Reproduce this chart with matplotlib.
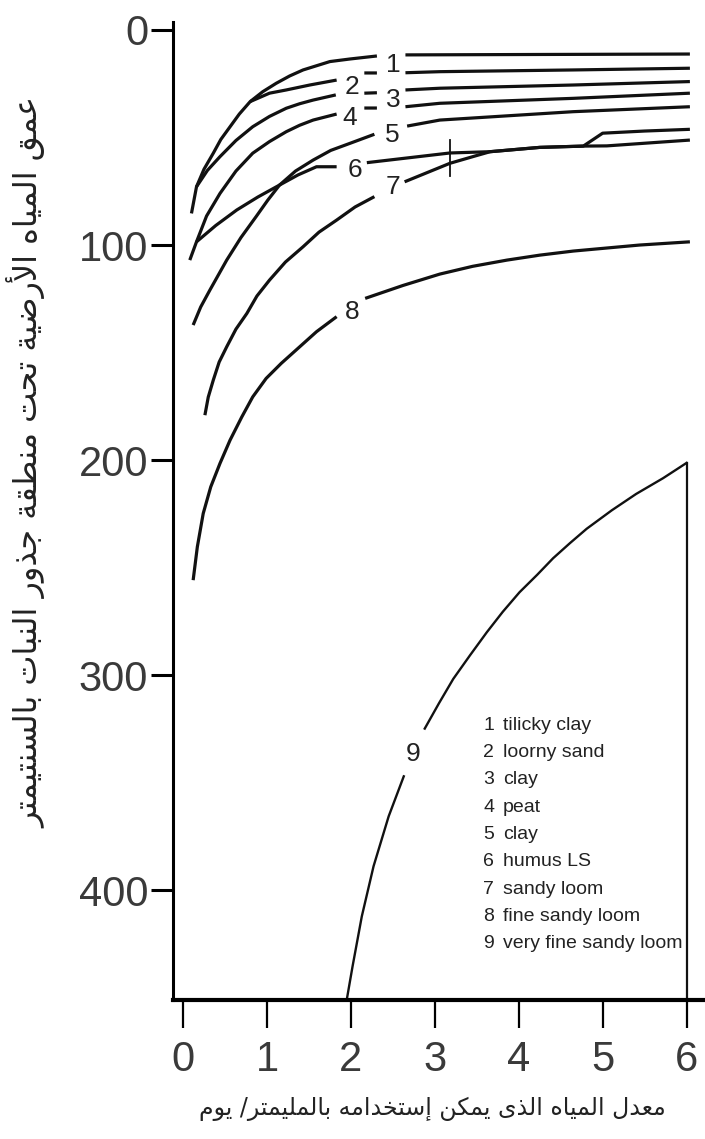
import numpy as np
import matplotlib
matplotlib.use('Agg')
import matplotlib.pyplot as plt

nan = np.nan

# rate of usable water (mm/day) vs depth of groundwater below root zone (cm)
c1_x = [0.10, 0.16, 0.25, 0.36, 0.45, 0.56, 0.67, 0.80, 0.95, 1.11, 1.27, 1.43, 1.75, 1.99, 2.31,
        nan, 2.65, 4.30, 6.04]
c1_d = [85.3, 72.9, 64.7, 57.3, 50.9, 45.0, 39.1, 33.3, 28.7, 24.8, 21.4, 18.6, 14.7, 13.5, 12.1,
        nan, 11.6, 11.4, 11.2]

c2_x = [0.80, 1.03, 1.23, 1.51, 1.83, nan, 2.16, 2.31, nan, 2.65, 3.06, 4.65, 6.04]
c2_d = [33.3, 29.4, 27.9, 25.6, 23.3, nan, 20.0, 20.0, nan, 19.9, 19.4, 18.6, 17.8]

c3_x = [0.16, 0.29, 0.44, 0.63, 0.83, 1.03, 1.23, 1.39, 1.55, 1.82, nan, 2.16, 2.31,
        nan, 2.65, 3.06, 4.65, 6.04]
c3_d = [72.9, 65.3, 58.9, 51.4, 45.0, 40.2, 36.4, 34.3, 32.6, 30.2, nan, 29.4, 29.2,
        nan, 27.9, 27.1, 25.6, 24.0]

c4_x = [0.08, 0.16, 0.28, 0.44, 0.63, 0.83, 1.03, 1.23, 1.39, 1.55, 1.83, nan, 2.16, 2.31,
        nan, 2.65, 3.06, 4.65, 6.04]
c4_d = [107.0, 98.5, 86.5, 76.0, 65.6, 57.3, 51.9, 47.3, 44.3, 41.9, 39.1, nan, 36.3, 36.3,
        nan, 35.7, 34.1, 31.8, 29.4]

c5_x = [0.12, 0.21, 0.32, 0.52, 0.69, 0.87, 1.01, 1.15, 1.34, 1.55, 1.76, 1.99, 2.28,
        nan, 2.67, 3.06, 4.65, 6.04]
c5_d = [137.2, 128.8, 120.9, 107.0, 96.5, 86.8, 79.1, 72.1, 65.6, 60.5, 56.0, 52.7, 48.5,
        nan, 44.7, 41.9, 38.0, 35.7]

c6_x = [0.16, 0.39, 0.64, 0.89, 1.15, 1.37, 1.59, 1.83, nan, 2.19, 3.18, 3.66, 4.25, 4.77,
        5.00, 5.50, 6.04]
c6_d = [98.5, 90.9, 83.7, 77.7, 72.1, 67.4, 63.6, 63.6, nan, 61.7, 57.2, 56.6, 54.6, 54.0,
        48.0, 47.0, 46.2]

c7_x = [0.26, 0.30, 0.36, 0.43, 0.52, 0.63, 0.76, 0.88, 1.03, 1.22, 1.43, 1.62, 1.83, 2.05, 2.28,
        nan, 2.64, 3.18, 3.48, 3.66, 4.25, 4.77, 5.05, 6.04]
c7_d = [179.1, 170.7, 162.8, 154.4, 147.3, 139.1, 131.8, 123.7, 116.3, 107.9, 100.8, 94.0, 88.4,
        82.3, 77.5, nan, 70.6, 62.0, 58.6, 56.6, 54.6, 54.0, 53.9, 51.2]

c8_x = [0.12, 0.17, 0.24, 0.33, 0.44, 0.56, 0.70, 0.83, 0.99, 1.17, 1.37, 1.59, 1.83,
        nan, 2.17, 2.62, 3.06, 3.45, 3.86, 4.25, 4.65, 5.44, 6.04]
c8_d = [255.8, 240.3, 224.8, 212.4, 201.5, 190.7, 179.9, 170.6, 162.0, 155.0, 148.0, 140.3, 133.3,
        nan, 124.8, 118.8, 113.5, 109.9, 107.0, 104.7, 102.8, 100.0, 98.5]

c9_x = [1.95, 2.02, 2.13, 2.27, 2.45, 2.63, nan, 2.88, 3.05, 3.22, 3.42, 3.62, 3.81, 4.01,
        4.22, 4.41, 4.61, 4.81, 5.11, 5.40, 5.72, 6.00]
c9_d = [451.0, 435.3, 412.1, 388.8, 365.6, 347.0, nan, 324.8, 313.0, 301.7, 290.7, 280.0, 270.5,
        261.4, 253.3, 245.6, 238.6, 231.9, 223.3, 215.7, 208.4, 201.3]

curves_x = [c1_x, c2_x, c3_x, c4_x, c5_x, c6_x, c7_x, c8_x]
curves_d = [c1_d, c2_d, c3_d, c4_d, c5_d, c6_d, c7_d, c8_d]

# curve number labels
num_x = [2.50, 2.01, 2.50, 1.99, 2.49, 2.05, 2.50, 2.01, 2.74]
num_d = [16.3, 26.4, 32.6, 40.9, 48.8, 65.1, 72.9, 131.0, 336.4]

# crossing tick where 6 and 7 meet
mark_x = [3.18, 3.18]
mark_d = [51.0, 68.0]

soils = ['tilicky clay', 'loorny sand', 'clay', 'peat', 'clay', 'humus LS',
         'sandy loom', 'fine sandy loom', 'very fine sandy loom']

xticks = [0, 1, 2, 3, 4, 5, 6]
yticks = [0, 100, 200, 300, 400]

ylabel_txt = 'عمق المياه الأرضية تحت منطقة جذور النبات بالسنتيمتر'
xlabel_txt = 'معدل المياه الذى يمكن إستخدامه بالمليمتر/ يوم'

# --- tiny arabic shaper (matplotlib does no joining / bidi) ---
FORMS = {
    'ا': (0xFE8D, 0xFE8E, None, None), 'أ': (0xFE83, 0xFE84, None, None),
    'إ': (0xFE87, 0xFE88, None, None), 'آ': (0xFE81, 0xFE82, None, None),
    'ب': (0xFE8F, 0xFE90, 0xFE91, 0xFE92), 'ة': (0xFE93, 0xFE94, None, None),
    'ت': (0xFE95, 0xFE96, 0xFE97, 0xFE98), 'ث': (0xFE99, 0xFE9A, 0xFE9B, 0xFE9C),
    'ج': (0xFE9D, 0xFE9E, 0xFE9F, 0xFEA0), 'ح': (0xFEA1, 0xFEA2, 0xFEA3, 0xFEA4),
    'خ': (0xFEA5, 0xFEA6, 0xFEA7, 0xFEA8), 'د': (0xFEA9, 0xFEAA, None, None),
    'ذ': (0xFEAB, 0xFEAC, None, None), 'ر': (0xFEAD, 0xFEAE, None, None),
    'ز': (0xFEAF, 0xFEB0, None, None), 'س': (0xFEB1, 0xFEB2, 0xFEB3, 0xFEB4),
    'ش': (0xFEB5, 0xFEB6, 0xFEB7, 0xFEB8), 'ص': (0xFEB9, 0xFEBA, 0xFEBB, 0xFEBC),
    'ض': (0xFEBD, 0xFEBE, 0xFEBF, 0xFEC0), 'ط': (0xFEC1, 0xFEC2, 0xFEC3, 0xFEC4),
    'ظ': (0xFEC5, 0xFEC6, 0xFEC7, 0xFEC8), 'ع': (0xFEC9, 0xFECA, 0xFECB, 0xFECC),
    'غ': (0xFECD, 0xFECE, 0xFECF, 0xFED0), 'ف': (0xFED1, 0xFED2, 0xFED3, 0xFED4),
    'ق': (0xFED5, 0xFED6, 0xFED7, 0xFED8), 'ك': (0xFED9, 0xFEDA, 0xFEDB, 0xFEDC),
    'ل': (0xFEDD, 0xFEDE, 0xFEDF, 0xFEE0), 'م': (0xFEE1, 0xFEE2, 0xFEE3, 0xFEE4),
    'ن': (0xFEE5, 0xFEE6, 0xFEE7, 0xFEE8), 'ه': (0xFEE9, 0xFEEA, 0xFEEB, 0xFEEC),
    'و': (0xFEED, 0xFEEE, None, None), 'ى': (0xFEEF, 0xFEF0, None, None),
    'ي': (0xFEF1, 0xFEF2, 0xFEF3, 0xFEF4),
}
LAMALEF = {'ا': (0xFEFB, 0xFEFC), 'أ': (0xFEF7, 0xFEF8),
           'إ': (0xFEF9, 0xFEFA), 'آ': (0xFEF5, 0xFEF6)}


def shape_ar(text):
    units = []
    i = 0
    while i < len(text):
        if text[i] == 'ل' and i + 1 < len(text) and text[i + 1] in LAMALEF:
            units.append(('LA', text[i + 1]))
            i += 2
        else:
            units.append(('C', text[i]))
            i += 1
    dual = lambda u: u is not None and u[0] == 'C' and u[1] in FORMS and FORMS[u[1]][2] is not None
    res = []
    for k, (kind, c) in enumerate(units):
        prev = units[k - 1] if k > 0 else None
        nxt = units[k + 1] if k + 1 < len(units) else None
        jp = dual(prev)
        if kind == 'LA':
            res.append(chr(LAMALEF[c][1] if jp else LAMALEF[c][0]))
            continue
        if c not in FORMS:
            res.append(c)
            continue
        jn = FORMS[c][2] is not None and nxt is not None and (nxt[0] == 'LA' or nxt[1] in FORMS)
        iso, fin, ini, med = FORMS[c]
        if jp and jn:
            g = med
        elif jp:
            g = fin
        elif jn:
            g = ini
        else:
            g = iso
        res.append(chr(g))
    return ''.join(reversed(res))


plt.rcParams['font.family'] = ['Liberation Sans', 'DejaVu Sans']

fig = plt.figure(figsize=(7.05, 11.39), dpi=100)
ax = fig.add_axes([0.2454, 0.1220, 0.7546, 0.8587])
ax.set_xlim(-0.12, 6.22)
ax.set_ylim(451, -3.7)

for xs, ds in zip(curves_x, curves_d):
    ax.plot(xs, ds, color='#111111', lw=2.3, solid_capstyle='butt', solid_joinstyle='round')
ax.plot(c9_x, c9_d, color='#111111', lw=1.7, solid_joinstyle='round')
ax.plot([c9_x[-1], c9_x[-1]], [c9_d[-1], 451], color='#111111', lw=1.6)
ax.plot(mark_x, mark_d, color='#111111', lw=1.3)

for k in range(len(num_x)):
    ax.text(num_x[k], num_d[k], str(k + 1), fontsize=19, color='#222222',
            ha='center', va='center')

# legend list, bottom right
for k, name in enumerate(soils):
    yy = 323.3 + k * 12.7
    ax.text(3.64, yy, str(k + 1), fontsize=14, color='#222222', ha='center', va='center')
    ax.text(3.81, yy, name, fontsize=14, color='#222222', ha='left', va='center')

for s in ['top', 'right']:
    ax.spines[s].set_visible(False)
ax.spines['left'].set_linewidth(2.2)
ax.spines['bottom'].set_linewidth(3.0)

ax.set_xticks(xticks)
ax.set_yticks(yticks)
ax.tick_params(axis='x', direction='out', length=20, width=1.6, pad=9,
               labelsize=30, labelcolor='#3a3a3a')
ax.tick_params(axis='y', direction='out', length=16, width=2.2, pad=2,
               labelsize=30, labelcolor='#3a3a3a')

fig.text(0.613, 0.026, shape_ar(xlabel_txt), fontsize=17, family=['DejaVu Sans'],
         ha='center', va='center', color='#222222')
fig.text(0.038, 0.594, shape_ar(ylabel_txt), fontsize=23, family=['DejaVu Sans'],
         ha='center', va='center', rotation=90, color='#222222')

fig.savefig('out.png', dpi=100)
